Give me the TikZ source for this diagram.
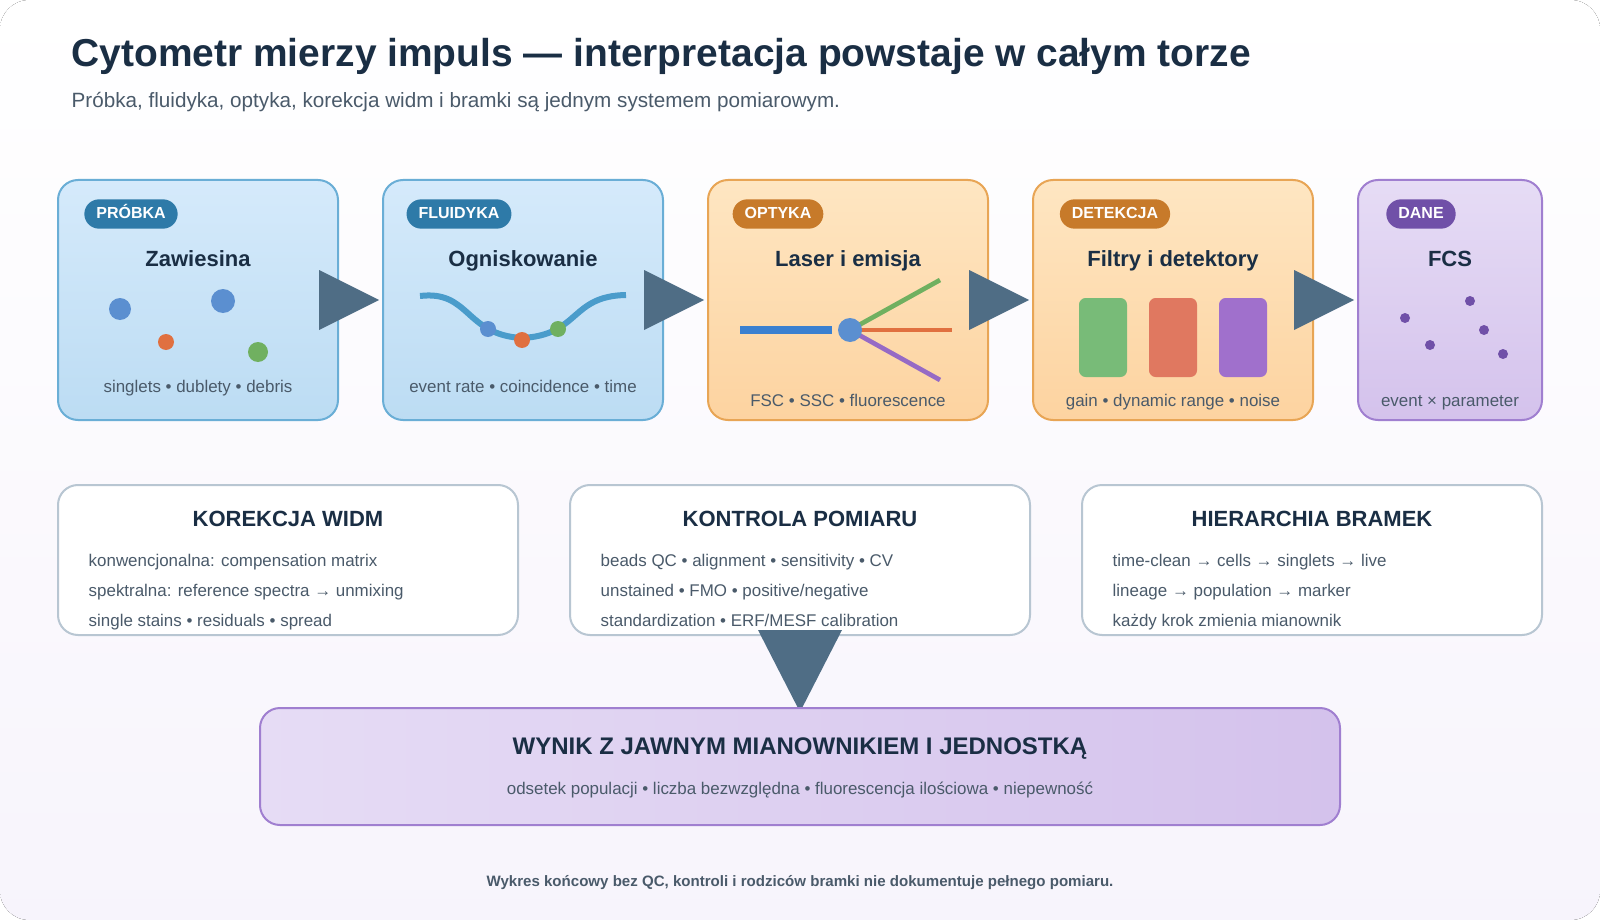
\documentclass[tikz,border=0pt]{standalone}
\usepackage{fontspec}
\setmainfont{Liberation Sans}
\usetikzlibrary{shapes.geometric}
\definecolor{ink}{HTML}{1A2E44}
\definecolor{sub}{HTML}{4A5A6A}
\definecolor{btop}{HTML}{D5EAFB}
\definecolor{bbot}{HTML}{BCDCF3}
\definecolor{bline}{HTML}{6AAED6}
\definecolor{otop}{HTML}{FEE6C2}
\definecolor{obot}{HTML}{FDD3A0}
\definecolor{oline}{HTML}{E8A555}
\definecolor{ptop}{HTML}{E6DCF5}
\definecolor{pbot}{HTML}{D4C2EC}
\definecolor{pfill}{HTML}{E0D4F2}
\definecolor{pline}{HTML}{A07FD0}
\definecolor{arr}{HTML}{4F6D85}
\definecolor{bbadge}{HTML}{2E7AA8}
\definecolor{obadge}{HTML}{C77A2A}
\definecolor{pbadge}{HTML}{7050A8}
\definecolor{dblue}{HTML}{5B8FD0}
\definecolor{dor}{HTML}{E07040}
\definecolor{dgr}{HTML}{70B060}
\definecolor{gray}{HTML}{B8C6D2}
\definecolor{curve}{HTML}{4A9CCB}
\definecolor{laser}{HTML}{3A80D0}
\definecolor{rg}{HTML}{78BB78}
\definecolor{rr}{HTML}{E07860}
\definecolor{rp}{HTML}{A070CC}
\tikzset{
 px/.style={x=0.75pt,y=-0.75pt},
 card/.style={draw, line width=1.5pt, rounded corners=15pt},
 th/.style={text height=1.6ex, text depth=0.4ex},
 badge/.style={th, rounded corners=11pt, text=white, font=\bfseries\fontsize{12}{14}\selectfont, minimum height=22pt, inner xsep=9pt},
 ttl/.style={th, font=\bfseries\fontsize{16.5}{20}\selectfont, text=ink},
 capt/.style={th, font=\fontsize{12.7}{15}\selectfont, text=sub},
 txtline/.style={capt, anchor=west},
}
\begin{document}
\begin{tikzpicture}[px]
\useasboundingbox (0,0) rectangle (1600,920);
\fill[white] (0,0) rectangle (1600,920);
\fill[top color=white, bottom color=pfill!25!white, rounded corners=22pt] (0,0) rectangle (1600,920);
\node[th, anchor=west, font=\bfseries\fontsize{29.2}{34}\selectfont, text=ink] (title) at (67,62) {Cytometr mierzy impuls — interpretacja powstaje w całym torze};
\node[th, anchor=west, font=\fontsize{15.5}{19}\selectfont, text=sub] (subt) at (67,103) {Próbka, fluidyka, optyka, korekcja widm i bramki są jednym systemem pomiarowym.};
\draw[card, draw=bline, top color=btop, bottom color=bbot] (58,180) rectangle (338,420);
\draw[card, draw=bline, top color=btop, bottom color=bbot] (383,180) rectangle (663,420);
\draw[card, draw=oline, top color=otop, bottom color=obot] (708,180) rectangle (988,420);
\draw[card, draw=oline, top color=otop, bottom color=obot] (1033,180) rectangle (1313,420);
\draw[card, draw=pline, top color=ptop, bottom color=pbot] (1358,180) rectangle (1542,420);
\node[badge, fill=bbadge] (b1) at (131,214) {PRÓBKA};
\node[badge, fill=bbadge] (b2) at (459,214) {FLUIDYKA};
\node[badge, fill=obadge] (b3) at (778,214) {OPTYKA};
\node[badge, fill=obadge] (b4) at (1115,214) {DETEKCJA};
\node[badge, fill=pbadge] (b5) at (1421,214) {DANE};
\node[ttl] (t1) at (198,262) {Zawiesina};
\node[ttl] (t2) at (523,262) {Ogniskowanie};
\node[ttl] (t3) at (848,262) {Laser i emisja};
\node[ttl] (t4) at (1173,262) {Filtry i detektory};
\node[ttl] (t5) at (1450,262) {FCS};
\node[capt] (c1) at (198,388) {singlets • dublety • debris};
\node[capt] (c2) at (523,388) {event rate • coincidence • time};
\node[capt] (c3) at (848,402) {FSC • SSC • fluorescence};
\node[capt] (c4) at (1173,402) {gain • dynamic range • noise};
\node[capt] (c5) at (1450,402) {event × parameter};
\foreach \x in {319,644,969,1294} \fill[arr] (\x,270) -- (\x+60,300) -- (\x,330) -- cycle;
\fill[dblue] (120,309) circle (11); \fill[dblue] (223,301) circle (12);
\fill[dor] (166,342) circle (8); \fill[dgr] (258,352) circle (10);
\draw[line width=4.5pt, curve] (420,296) .. controls (470,290) and (465,335) .. (522,338) .. controls (580,335) and (570,296) .. (626,295);
\fill[dblue] (488,329) circle (8); \fill[dor] (522,340) circle (8); \fill[dgr] (558,329) circle (8);
\draw[line width=6pt, laser] (740,330) -- (832,330);
\draw[line width=3.5pt, dgr] (850,330) -- (940,280);
\draw[line width=3.5pt, dor] (850,330) -- (952,330);
\draw[line width=3.5pt, rp!80!pbadge] (850,330) -- (940,380);
\fill[dblue] (850,330) circle (12);
\fill[rg, rounded corners=5pt] (1079,298) rectangle (1127,377);
\fill[rr, rounded corners=5pt] (1149,298) rectangle (1197,377);
\fill[rp, rounded corners=5pt] (1219,298) rectangle (1267,377);
\foreach \p in {(1405,318),(1470,301),(1430,345),(1484,330),(1503,354)} \fill[pbadge] \p circle (5);
\draw[card, draw=gray, fill=white] (58,485) rectangle (518,635);
\draw[card, draw=gray, fill=white] (570,485) rectangle (1030,635);
\draw[card, draw=gray, fill=white] (1082,485) rectangle (1542,635);
\node[ttl] (m1) at (288,522) {KOREKCJA WIDM};
\node[ttl] (m2) at (800,522) {KONTROLA POMIARU};
\node[ttl] (m3) at (1312,522) {HIERARCHIA BRAMEK};
\node[txtline] (l11) at (84,562) {konwencjonalna: compensation matrix};
\node[txtline] (l12) at (84,592) {spektralna: reference spectra → unmixing};
\node[txtline] (l13) at (84,622) {single stains • residuals • spread};
\node[txtline] (l21) at (596,562) {beads QC • alignment • sensitivity • CV};
\node[txtline] (l22) at (596,592) {unstained • FMO • positive/negative};
\node[txtline] (l23) at (596,622) {standardization • ERF/MESF calibration};
\node[txtline] (l31) at (1108,562) {time-clean → cells → singlets → live};
\node[txtline] (l32) at (1108,592) {lineage → population → marker};
\node[txtline] (l33) at (1108,622) {każdy krok zmienia mianownik};
\fill[arr] (758,630) -- (842,630) -- (800,712) -- cycle;
\draw[card, draw=pline, left color=ptop, right color=pbot] (260,708) rectangle (1340,825);
\node[th, font=\bfseries\fontsize{18}{22}\selectfont, text=ink] (w) at (800,750) {WYNIK Z JAWNYM MIANOWNIKIEM I JEDNOSTKĄ};
\node[capt] (ws) at (800,790) {odsetek populacji • liczba bezwzględna • fluorescencja ilościowa • niepewność};
\node[th, font=\bfseries\fontsize{11.3}{14}\selectfont, text=sub] (foot) at (800,882) {Wykres końcowy bez QC, kontroli i rodziców bramki nie dokumentuje pełnego pomiaru.};
\end{tikzpicture}
\end{document}
